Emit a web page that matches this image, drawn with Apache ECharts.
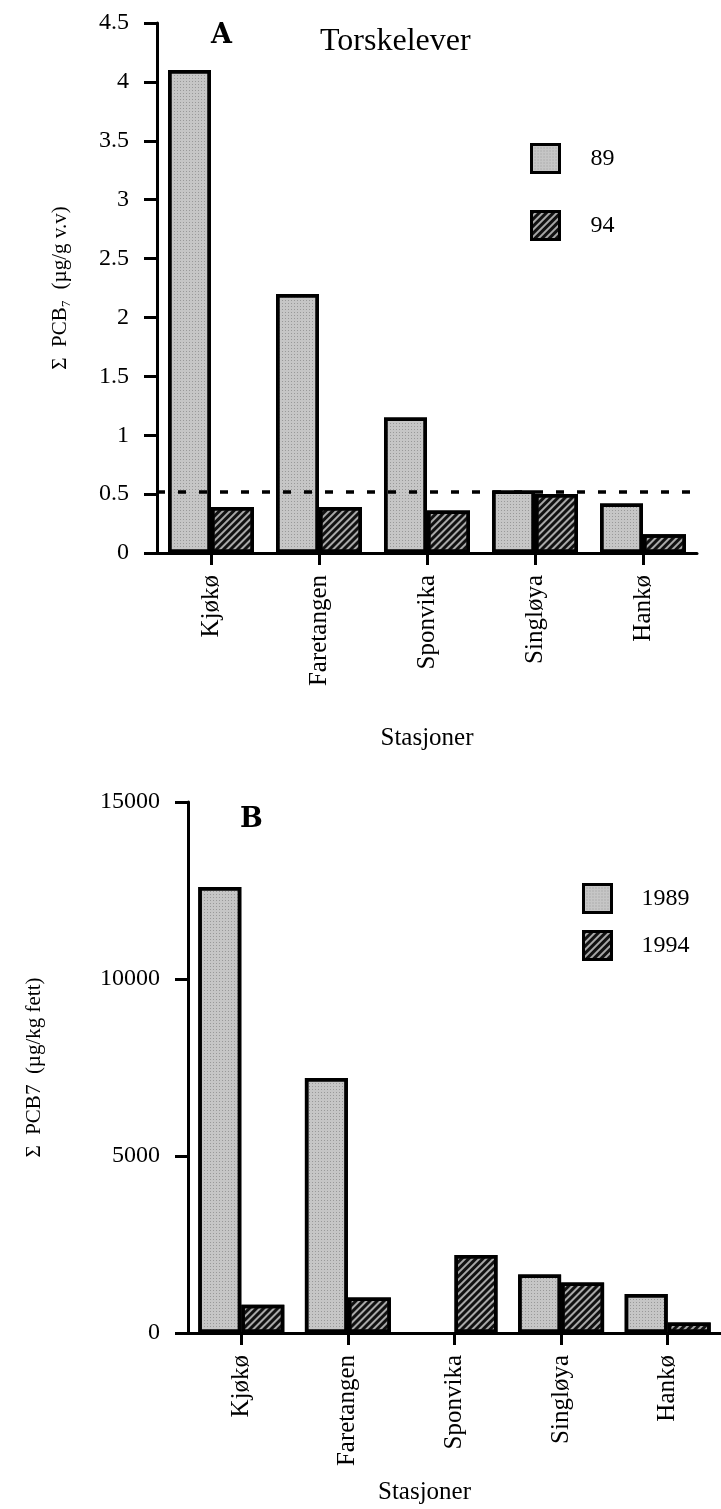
<!DOCTYPE html>
<html>
<head>
<meta charset="utf-8">
<script src="https://cdn.jsdelivr.net/npm/echarts@6/dist/echarts.min.js"></script>
<style>
html,body{margin:0;padding:0;background:#fff;}
#c{width:721px;height:1509px;}
</style>
</head>
<body>
<div id="c"></div>
<script>
// ---- data ----
const stations = ['Kjøkø', 'Faretangen', 'Sponvika', 'Singløya', 'Hankø'];
const liver89 = [4.1, 2.2, 1.15, 0.53, 0.42];
const liver94 = [0.39, 0.39, 0.36, 0.5, 0.16];
const refLevel = 0.52;
const fat1989 = [12600, 7200, null, 1650, 1100];
const fat1994 = [800, 1000, 2200, 1430, 300];
const topAxis = { min: 0, max: 4.5, interval: 0.5 };
const bottomAxis = { min: 0, max: 15000, interval: 5000 };

const SERIF = '"Liberation Serif", "DejaVu Serif", serif';

const lightStyle = {
  color: '#c6c6c6', borderColor: '#000', borderWidth: 3.5,
  decal: { symbol: 'rect', symbolSize: 1, dashArrayX: [1, 2], dashArrayY: [1, 2], color: 'rgba(70,70,70,0.35)' }
};
const darkStyle = {
  color: '#a8a8a8', borderColor: '#000', borderWidth: 3.5,
  decal: { symbol: 'rect', symbolSize: 1, dashArrayX: [1, 0], dashArrayY: [2.2, 2], rotation: -Math.PI / 4, color: '#111' }
};

function yAxisCfg(idx, ax, name, nameGap) {
  return {
    type: 'value', gridIndex: idx, min: ax.min, max: ax.max, interval: ax.interval,
    name: name, nameLocation: 'middle', nameGap: nameGap, nameRotate: 90,
    nameTextStyle: { fontFamily: SERIF, fontSize: 21, color: '#000' },
    axisLine: { show: true, lineStyle: { color: '#000', width: 3 } },
    axisTick: { show: true, length: 13, inside: false, lineStyle: { color: '#000', width: 3 } },
    axisLabel: { margin: 28, fontFamily: SERIF, fontSize: 24, color: '#000', formatter: v => String(v) },
    splitLine: { show: false }
  };
}
function xAxisCfg(idx, nameGap, namePad) {
  return {
    type: 'category', gridIndex: idx, data: stations,
    name: 'Stasjoner', nameLocation: 'middle', nameGap: nameGap,
    nameTextStyle: { fontFamily: SERIF, fontSize: 25, color: '#000', padding: namePad },
    axisLine: { show: true, lineStyle: { color: '#000', width: 3 } },
    axisTick: { show: true, alignWithLabel: true, length: 12, lineStyle: { color: '#000', width: 3 } },
    axisLabel: { rotate: 90, margin: 22, fontFamily: SERIF, fontSize: 25, color: '#000', interval: 0 },
    splitLine: { show: false }
  };
}

const chart = echarts.init(document.getElementById('c'), null, { renderer: 'canvas' });
chart.setOption({
  animation: false,
  backgroundColor: '#fff',
  title: [
    { text: 'A', left: 211, top: 22, padding: 0, textStyle: { fontFamily: '"DejaVu Serif", serif', fontWeight: 'bold', fontSize: 27, color: '#000' } },
    { text: 'Torskelever', left: 320, top: 26, padding: 0, textStyle: { fontFamily: SERIF, fontWeight: 'normal', fontSize: 32, color: '#000' } },
    { text: 'B', left: 240, top: 806, padding: 0, textStyle: { fontFamily: '"DejaVu Serif", serif', fontWeight: 'bold', fontSize: 27, color: '#000' } }
  ],
  legend: [
    { data: ['89', '94'], orient: 'vertical', left: 530, top: 143, itemWidth: 28, itemHeight: 28, itemGap: 36, padding: 0,
      icon: 'rect', itemStyle: { borderColor: '#000', borderWidth: 3 },
      textStyle: { fontFamily: SERIF, fontSize: 24, color: '#000', padding: [0, 0, 0, 26] } },
    { data: ['1989', '1994'], orient: 'vertical', left: 582, top: 883, itemWidth: 28, itemHeight: 28, itemGap: 16, padding: 0,
      icon: 'rect', itemStyle: { borderColor: '#000', borderWidth: 3 },
      textStyle: { fontFamily: SERIF, fontSize: 24, color: '#000', padding: [0, 0, 0, 25] } }
  ],
  grid: [
    { left: 157, right: 24, top: 23, bottom: 956, containLabel: false },
    { left: 188, right: -6, top: 802, bottom: 176, containLabel: false }
  ],
  xAxis: [xAxisCfg(0, 173, 0), xAxisCfg(1, 147, [0, 60, 0, 0])],
  yAxis: [
    yAxisCfg(0, topAxis, 'Σ  PCB₇  (µg/g v.v)', 86),
    yAxisCfg(1, bottomAxis, 'Σ  PCB7  (µg/kg fett)', 143)
  ],
  series: [
    { name: '89', type: 'bar', xAxisIndex: 0, yAxisIndex: 0, data: liver89, barWidth: 43, barGap: '0%', itemStyle: lightStyle,
      markLine: { symbol: 'none', silent: true, label: { show: false }, lineStyle: { color: '#000', type: [8, 13], width: 3.5 }, data: [{ yAxis: refLevel }] } },
    { name: '94', type: 'bar', xAxisIndex: 0, yAxisIndex: 0, data: liver94, barWidth: 43, barGap: '0%', itemStyle: darkStyle },
    { name: '1989', type: 'bar', xAxisIndex: 1, yAxisIndex: 1, data: fat1989.map(v => v === null ? '-' : v), barWidth: 43, barGap: '0%', itemStyle: lightStyle },
    { name: '1994', type: 'bar', xAxisIndex: 1, yAxisIndex: 1, data: fat1994, barWidth: 43, barGap: '0%', itemStyle: darkStyle }
  ]
});
</script>
</body>
</html>
